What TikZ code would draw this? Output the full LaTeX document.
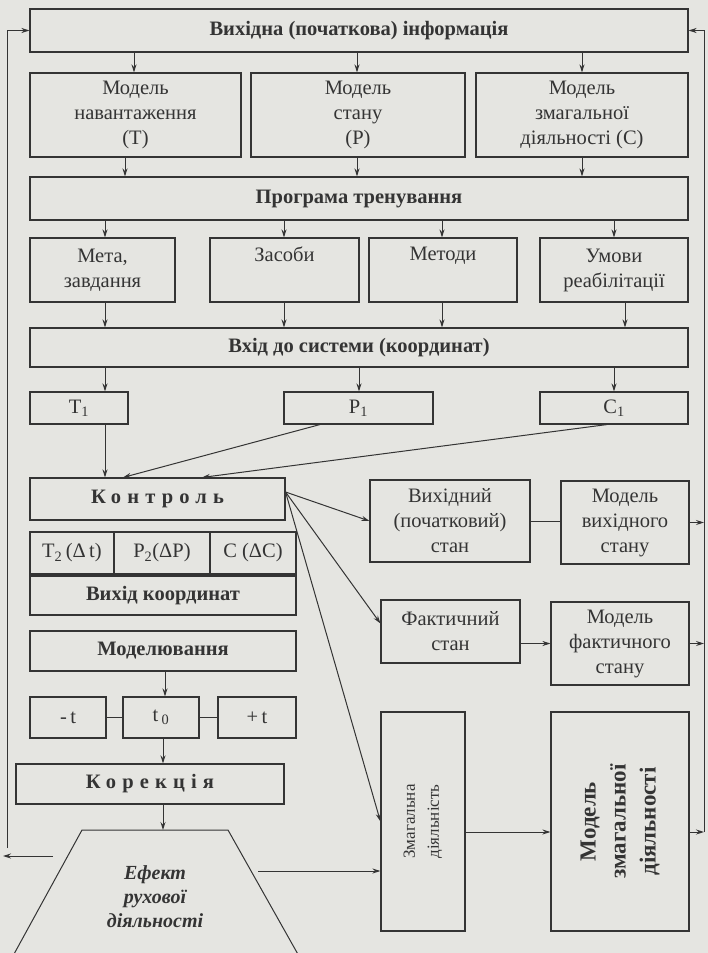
\documentclass[tikz,border=0pt]{standalone}
\usepackage{fontspec}
\setmainfont{Liberation Serif}
\usetikzlibrary{arrows.meta}
\definecolor{paper}{RGB}{229,229,225}
\definecolor{ink}{RGB}{52,52,52}
\tikzset{
  box/.style={draw=ink, line width=1.1pt, align=center, text=ink, inner sep=1pt,
    font=\fontsize{20.5}{25}\selectfont},
  hdr/.style={box, font=\fontsize{20.5}{25}\selectfont\bfseries},
  arr/.style={draw=ink, line width=1pt, -{Stealth[length=8pt,width=5pt]}},
  wire/.style={draw=ink, line width=1pt},
  wide/.style={font=\fontsize{20.5}{25}\selectfont\bfseries\addfontfeatures{LetterSpace=30}},
}
\begin{document}
\begin{tikzpicture}[x=1pt,y=-1pt]
\fill[paper] (0,0) rectangle (708,953);
\useasboundingbox (0,0) rectangle (708,953);

% ---- initial information and models
\node[hdr, minimum width=658pt, minimum height=43pt] (top) at (359,30.5) {Вихідна (початкова) інформація};
\node[box, minimum width=211pt, minimum height=84pt] (m1) at (135.5,115) {Модель\\навантаження\\(T)};
\node[box, minimum width=214pt, minimum height=84pt] (m2) at (358,115) {Модель\\стану\\(P)};
\node[box, minimum width=212pt, minimum height=84pt] (m3) at (582,115) {Модель\\змагальної\\діяльності (С)};

% ---- training programme
\node[hdr, minimum width=658pt, minimum height=43pt] (prog) at (359,198.5) {Програма тренування};
\node[box, minimum width=145pt, minimum height=64pt] (r1) at (102.5,270) {Мета,\\завдання};
\node[box, minimum width=149pt, minimum height=64pt] (r2) at (284.5,270) {Засоби\\\strut};
\node[box, minimum width=148pt, minimum height=64pt] (r3) at (443,270) {Методи\\\strut};
\node[box, minimum width=148pt, minimum height=64pt] (r4) at (614,270) {Умови\\реабілітації};

% ---- system input
\node[hdr, minimum width=658pt, minimum height=39pt] (vhid) at (359,347.5) {Вхід до системи (координат)};
\node[box, minimum width=98pt, minimum height=32pt] (t1) at (79,408) {T\textsubscript{1}};
\node[box, minimum width=149pt, minimum height=32pt] (p1) at (358.5,408) {P\textsubscript{1}};
\node[box, minimum width=148pt, minimum height=32pt] (c1) at (614,408) {C\textsubscript{1}};

% ---- control block
\node[box, wide, minimum width=255pt, minimum height=42pt] (kontrol) at (157.5,499) {Контроль};
\node[box, minimum width=84pt, minimum height=42pt] (dt) at (72,553) {T\textsubscript{2}\,(Δ\,t)};
\node[box, minimum width=96pt, minimum height=42pt] (dp) at (162,553) {P\textsubscript{2}(ΔP)};
\node[box, minimum width=86pt, minimum height=42pt] (dc) at (253,553) {C (ΔC)};
\node[hdr, minimum width=266pt, minimum height=39pt] (vk) at (163,595.5) {Вихід координат};
\node[hdr, minimum width=266pt, minimum height=40pt] (mod) at (163,651) {Моделювання};
\node[box, minimum width=76pt, minimum height=41pt] (mt) at (68,717.5) {-\,t};
\node[box, minimum width=76pt, minimum height=41pt] (t0) at (161,717.5) {t\,\textsubscript{0}};
\node[box, minimum width=78pt, minimum height=41pt] (pt) at (257,717.5) {+\,t};
\node[box, wide, minimum width=268pt, minimum height=40pt] (kor) at (150,784) {Корекція};

% ---- effect of motor activity (open trapezium)
\draw[wire] (8,965) -- (82,830) -- (228,830) -- (304,965);
\coordinate (trtop) at (155,830);
\node[text=ink, align=center, font=\fontsize{20}{24}\selectfont\bfseries\itshape] (eff) at (155,897) {Ефект\\рухової\\діяльності};

% ---- states and models on the right
\node[box, minimum width=160pt, minimum height=82pt] (vs) at (450,521) {Вихідний\\(початковий)\\стан};
\node[box, minimum width=128pt, minimum height=83pt] (mvs) at (625,522.5) {Модель\\вихідного\\стану};
\node[box, minimum width=139pt, minimum height=63pt] (fs) at (450.5,631.5) {Фактичний\\стан};
\node[box, minimum width=138pt, minimum height=83pt] (mfs) at (620,643.5) {Модель\\фактичного\\стану};
\node[box, minimum width=84pt, minimum height=219pt] (zd) at (423,821.5) {};
\node[text=ink, rotate=90, align=center, font=\fontsize{17}{24}\selectfont] (zdt) at (zd.center) {Змагальна\\діяльність};
\node[box, minimum width=138pt, minimum height=219pt] (mzd) at (620,821.5) {};
\node[text=ink, rotate=90, align=center, font=\fontsize{23}{30}\selectfont\bfseries] (mzdt) at (mzd.center) {Модель\\змагальної\\діяльності};

% ---- helper abscissae / ordinates for the connectors
\coordinate (xa) at (134,0);   \coordinate (xb) at (357,0);   \coordinate (xc) at (582,0);
\coordinate (xd) at (125,0);
\coordinate (xe) at (105,0);   \coordinate (xf) at (284,0);   \coordinate (xg) at (442,0);
\coordinate (xh) at (614,0);   \coordinate (xi) at (625,0);   \coordinate (xj) at (359,0);
\coordinate (xp) at (320,0);   \coordinate (xq) at (607,0);
\coordinate (xk) at (123,0);   \coordinate (xl) at (202,0);
\coordinate (xm) at (165,0);   \coordinate (xn) at (163,0);
\coordinate (rx) at (704,0);   \coordinate (lx) at (7,0);
\coordinate (yz) at (0,832);   \coordinate (yl) at (0,848);
\coordinate (effr) at (258,871);
\coordinate (effa) at (53,856); \coordinate (effb) at (3,856);

% top box -> models -> programme
\foreach \x/\b in {xa/m1, xb/m2, xc/m3} \draw[arr] (top.south -| \x) -- (\b.north -| \x);
\foreach \x/\b in {xd/m1, xb/m2, xc/m3} \draw[arr] (\b.south -| \x) -- (prog.north -| \x);
% programme -> components -> system input
\foreach \x/\b in {xe/r1, xf/r2, xg/r3, xh/r4} \draw[arr] (prog.south -| \x) -- (\b.north -| \x);
\foreach \x/\b in {xe/r1, xf/r2, xg/r3, xi/r4} \draw[arr] (\b.south -| \x) -- (vhid.north -| \x);
% system input -> coordinates -> control
\foreach \x/\b in {xe/t1, xj/p1, xh/c1} \draw[arr] (vhid.south -| \x) -- (\b.north -| \x);
\draw[arr] (t1.south -| xe) -- (kontrol.north -| xe);
\draw[arr] (p1.south -| xp) -- (kontrol.north -| xk);
\draw[arr] (c1.south -| xq) -- (kontrol.north -| xl);

% control -> states
\draw[arr] ([yshift=7pt]kontrol.east) -- (vs.west);
\draw[arr] ([yshift=7pt]kontrol.east) -- ([yshift=8pt]fs.west);
\draw[arr] ([yshift=7pt]kontrol.east) -- (zd.west);

% modelling chain
\draw[arr] (mod.south -| xm) -- (t0.north -| xm);
\draw[wire] (mt.east) -- (t0.west);
\draw[wire] (t0.east) -- (pt.west);
\draw[arr] (t0.south -| xn) -- (kor.north -| xn);
\draw[arr] (kor.south -| xn) -- (trtop -| xn);
\draw[arr] (effr) -- (zd.west |- effr);

% states -> models
\draw[wire] (vs.east) -- (vs.east -| mvs.west);
\draw[arr] (fs.east |- mfs.west) -- (mfs.west);
\draw[arr] (zd.east |- yz) -- (mzd.west |- yz);

% right feedback line
\draw[arr] (mvs.east) -- (mvs.east -| rx);
\draw[arr] (mfs.east) -- (mfs.east -| rx);
\draw[arr] (mzd.east |- yz) -- (rx |- yz);
\draw[arr] (rx |- yz) -- (rx |- top.east) -- (top.east);

% left feedback line
\draw[arr] (lx |- yl) -- (lx |- top.west) -- (top.west);
\draw[arr] (effa) -- (effb);
\end{tikzpicture}
\end{document}
